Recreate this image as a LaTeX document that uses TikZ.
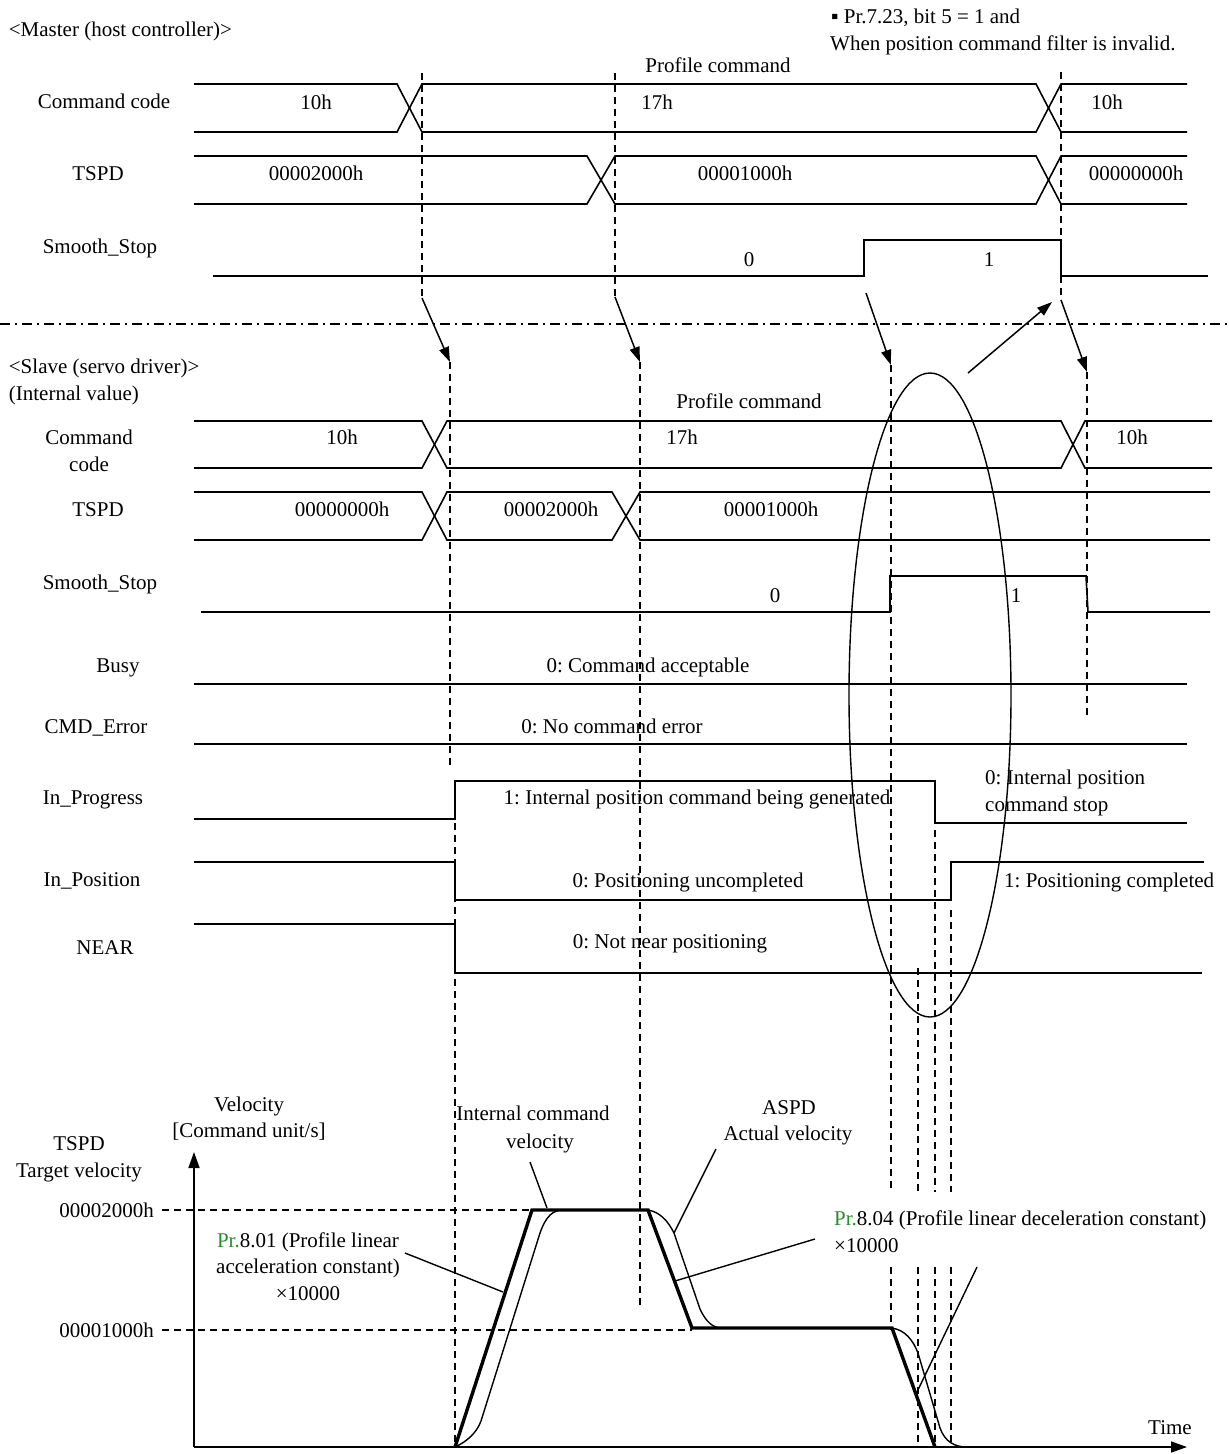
\documentclass[tikz,border=0pt]{standalone}
\usepackage{fontspec}
\setmainfont{Liberation Serif}
\usetikzlibrary{arrows.meta}
\definecolor{prgreen}{RGB}{40,140,40}
\frenchspacing
\begin{document}
\begin{tikzpicture}[x=1pt,y=-1pt, font=\fontsize{21}{27}\selectfont,
  sig/.style={line width=1.6pt, line join=miter},
  dsh/.style={line width=1.3pt, dash pattern=on 7pt off 5pt},
  dashdot/.style={line width=1.3pt, dash pattern=on 10pt off 5pt on 2pt off 5pt},
  thinline/.style={line width=1.4pt},
  thickline/.style={line width=3.4pt, line join=miter},
  lbl/.style={inner sep=0pt, anchor=base},
  lblw/.style={inner sep=0pt, anchor=base west},
  lble/.style={inner sep=0pt, anchor=base east},
  arr/.style={line width=1.5pt, -{Triangle[length=15pt,width=10pt]}},
  axisarr/.style={line width=1.6pt, -{Triangle[length=16pt,width=11pt]}},
]
\useasboundingbox (0,0) rectangle (1229,1454);

% ---------------- Master ----------------
\node[lblw] (mtitle) at (8.7,36) {<Master (host controller)>};
\node[lblw] (note1) at (831,23) {▪ Pr.7.23, bit 5 = 1 and};
\node[lblw] (note2) at (830,50) {When position command filter is invalid.};
\node[lbl] (mprof) at (718,72) {Profile command};

\node[lbl] (mcc) at (104,108) {Command code};
\node[lbl] (mcc1) at (316,109) {10h};
\node[lbl] (mcc2) at (657,109) {17h};
\node[lbl] (mcc3) at (1107,109) {10h};
\draw[sig] (194,84)--(397,84)--(422,132)--(1036,132)--(1061,84)--(1187,84);
\draw[sig] (194,132)--(397,132)--(422,84)--(1036,84)--(1061,132)--(1187,132);

\node[lbl] (mtspd) at (98,180) {TSPD};
\node[lbl] (mt1) at (316,180) {00002000h};
\node[lbl] (mt2) at (745,180) {00001000h};
\node[lbl] (mt3) at (1136,180) {00000000h};
\draw[sig] (194,156)--(587,156)--(615,204)--(1036,204)--(1061,156)--(1187,156);
\draw[sig] (194,204)--(587,204)--(615,156)--(1036,156)--(1061,204)--(1187,204);

\node[lbl] (mss) at (100,253) {Smooth\_Stop};
\node[lbl] (mss0) at (749,266) {0};
\node[lbl] (mss1) at (989,266) {1};
\draw[sig] (213,276)--(864,276)--(864,240)--(1061,240)--(1061,276)--(1208,276);

% separator
\draw[dashdot] (0,324)--(1229,324);

% transfer arrows
\coordinate (m1top) at (422,73);  \coordinate (m1) at (422,298); \coordinate (s1) at (450,362);
\coordinate (m2top) at (615,73);  \coordinate (m2) at (615,297); \coordinate (s2) at (640,362);
\coordinate (m3top) at (1061,72); \coordinate (m3) at (1061,300); \coordinate (s3) at (1087,372);
\coordinate (m4) at (866,293); \coordinate (s4) at (891,365);
\coordinate (e1) at (968,373); \coordinate (e2) at (1052,302);
\draw[dsh] (m1top)--(m1);
\draw[dsh] (m2top)--(m2);
\draw[dsh] (m3top)--(m3);
\draw[arr] (m1)--(s1);
\draw[arr] (m2)--(s2);
\draw[arr] (m3)--(s3);
\draw[arr] (m4)--(s4);
\draw[arr] (e1)--(e2);

% ---------------- Slave ----------------
\node[lblw] (stitle) at (8.7,373) {<Slave (servo driver)>};
\node[lblw] (sint) at (8.7,400) {(Internal value)};
\node[lbl] (sprof) at (749,408) {Profile command};

\node[lbl] (scca) at (89,444) {Command};
\node[lbl] (sccb) at (89,471) {code};
\node[lbl] (scc1) at (342,444) {10h};
\node[lbl] (scc2) at (682,444) {17h};
\node[lbl] (scc3) at (1132,444) {10h};
\draw[sig] (194,421)--(422,421)--(447,468)--(1061,468)--(1085,421)--(1212,421);
\draw[sig] (194,468)--(422,468)--(447,421)--(1061,421)--(1085,468)--(1212,468);

\node[lbl] (stspd) at (98,516) {TSPD};
\node[lbl] (st1) at (342,516) {00000000h};
\node[lbl] (st2) at (551,516) {00002000h};
\node[lbl] (st3) at (771,516) {00001000h};
\draw[sig] (194,492)--(422,492)--(447,540)--(612,540)--(640,492)--(1210,492);
\draw[sig] (194,540)--(422,540)--(447,492)--(612,492)--(640,540)--(1210,540);

\node[lbl] (sss) at (100,589) {Smooth\_Stop};
\node[lbl] (sss0) at (775,602) {0};
\node[lbl] (sss1) at (1016,602) {1};
\draw[sig] (201,612)--(890,612)--(890,576)--(1086,576)--(1088,612)--(1210,612);

\node[lbl] (busy) at (118,672) {Busy};
\node[lbl] (busyv) at (648,672) {0: Command acceptable};
\draw[sig] (194,684)--(1187,684);

\node[lbl] (cmde) at (96,733) {CMD\_Error};
\node[lbl] (cmdev) at (612,733) {0: No command error};
\draw[sig] (194,744)--(1187,744);

\node[lbl] (inpr) at (93,804) {In\_Progress};
\node[lbl] (inprv) at (697,804) {1: Internal position command being generated};
\node[lblw] (inprs1) at (985,784) {0: Internal position};
\node[lblw] (inprs2) at (985,811) {command stop};
\draw[sig] (194,819)--(455,819)--(455,781)--(935,781)--(935,823)--(1187,823);

\node[lbl] (inpo) at (92,886) {In\_Position};
\node[lbl] (inpov) at (688,887) {0: Positioning uncompleted};
\node[lblw] (inpoc) at (1004,887) {1: Positioning completed};
\draw[sig] (194,862)--(455,862)--(455,900)--(951,900)--(951,862)--(1204,862);

\node[lbl] (near) at (105,954) {NEAR};
\node[lbl] (nearv) at (670,948) {0: Not near positioning};
\draw[sig] (194,924)--(455,924)--(455,973)--(1202,973);

% vertical dashed time markers
\draw[dsh] (s1)--(450,768);
\draw[dsh] (455,823)--(455,1447);
\draw[dsh] (s2)--(640,1305);
\draw[dsh] (s3)--(1087,715);
\draw[dsh] (s4)--(891,1192);
\draw[dsh] (891,1267)--(891,1330);
\draw[dsh] (935,830)--(935,1192);
\draw[dsh] (935,1267)--(935,1447);
\draw[dsh] (951,910)--(951,1192);
\draw[dsh] (951,1267)--(951,1447);
\draw[dsh] (918,968)--(918,1192);
\draw[dsh] (918,1267)--(918,1447);

% ellipse
\draw[thinline] (930,695) ellipse [x radius=81, y radius=322];

% ---------------- Velocity chart ----------------
\node[lbl] (vel1) at (249,1111) {Velocity};
\node[lbl] (vel2) at (249,1137) {[Command unit/s]};
\node[lbl] (tv1) at (79,1150) {TSPD};
\node[lbl] (tv2) at (79,1177) {Target velocity};
\node[lble] (v2000) at (154,1217) {00002000h};
\node[lble] (v1000) at (154,1337) {00001000h};

\coordinate (origin) at (194,1447);
\coordinate (ytip) at (194,1152);
\coordinate (xtip) at (1187,1447);
\draw[axisarr] (origin)--(ytip);
\draw[axisarr] (origin)--(xtip);
\node[lbl] (time) at (1170,1434) {Time};

\draw[dsh] (162,1210)--(532,1210);
\draw[dsh] (162,1330)--(692,1330);

% actual velocity (thin)
\draw[thinline] (455,1447) .. controls (468,1441) and (477,1432) .. (481,1421)
  -- (540,1233) .. controls (546,1216) and (553,1210) .. (563,1210) -- (648,1210)
  .. controls (660,1212) and (668,1221) .. (674,1233) -- (700,1309)
  .. controls (706,1322) and (713,1328) .. (722,1328) -- (892,1328)
  .. controls (905,1330) and (913,1340) .. (918,1353) -- (940,1428)
  .. controls (945,1442) and (955,1447) .. (967,1447);
% internal command velocity (thick)
\draw[thickline] (455,1447)--(532,1210)--(648,1210)--(692,1328)--(892,1328)--(935,1447);

\node[lbl] (icv1) at (533,1120) {Internal command};
\node[lbl] (icv2) at (540,1148) {velocity};
\coordinate (icvp1) at (530,1162); \coordinate (icvp2) at (547,1208);
\draw[thinline] (icvp1)--(icvp2);

\node[lbl] (aspd1) at (789,1114) {ASPD};
\node[lbl] (aspd2) at (788,1140) {Actual velocity};
\coordinate (aspdp1) at (716,1149); \coordinate (aspdp2) at (674,1233);
\draw[thinline] (aspdp1)--(aspdp2);

\node[lbl] (acc1) at (308,1247) {\textcolor{prgreen}{Pr.}8.01 (Profile linear};
\node[lbl] (acc2) at (308,1273) {acceleration constant)};
\node[lbl] (acc3) at (308,1300) {×10000};
\coordinate (accp1) at (405,1253); \coordinate (accp2) at (503,1292);
\draw[thinline] (accp1)--(accp2);

\node[lblw] (dec1) at (834,1225) {\textcolor{prgreen}{Pr.}8.04 (Profile linear deceleration constant)};
\node[lblw] (dec2) at (834,1252) {×10000};
\coordinate (decp1) at (815,1239); \coordinate (decp2) at (675,1281);
\coordinate (decp3) at (977,1267); \coordinate (decp4) at (917,1392);
\draw[thinline] (decp1)--(decp2);
\draw[thinline] (decp3)--(decp4);

\end{tikzpicture}
\end{document}
